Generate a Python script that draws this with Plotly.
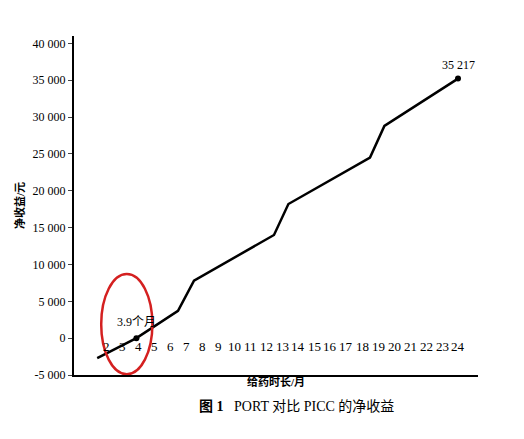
import plotly.graph_objects as go

months = [1.45, 3.9, 6.5, 7.5, 12.5, 13.4, 18.5, 19.4, 24]
net_gain = [-2700, 0, 3700, 7800, 14000, 18200, 24500, 28800, 35217]
x_labels = list(range(2, 25))
y_ticks = [-5000, 0, 5000, 10000, 15000, 20000, 25000, 30000, 35000, 40000]
y_labels = ["-5 000", "0", "5 000", "10 000", "15 000", "20 000", "25 000", "30 000", "35 000", "40 000"]

font = "Liberation Serif, Noto Sans CJK SC"
fig = go.Figure()
fig.add_trace(go.Scatter(x=months, y=net_gain, mode="lines", line=dict(color="black", width=2.5)))
fig.add_trace(go.Scatter(x=[3.9, 24], y=[0, 35217], mode="markers", marker=dict(color="black", size=6)))

# month labels sit on the zero line
for m in x_labels:
    fig.add_annotation(x=m, y=-1100, text=str(m), showarrow=False, font=dict(size=13, color="black", family=font))
fig.add_annotation(x=3.9, y=2200, text="3.9个月", showarrow=False, font=dict(size=12, color="black", family=font))
fig.add_annotation(x=24, y=37000, text="35 217", showarrow=False, font=dict(size=12, color="black", family=font))
fig.add_shape(type="circle", x0=1.7, x1=4.9, y0=-4900, y1=8700, line=dict(color="#d42020", width=2.5))

fig.add_annotation(xref="paper", yref="paper", x=0.5, y=-0.045, text="<b>给药时长/月</b>", showarrow=False,
                   font=dict(size=11, color="black", family=font))
fig.add_annotation(xref="paper", yref="paper", x=0.55, y=-0.12, text="<b>图 1</b>   PORT 对比 PICC 的净收益", showarrow=False,
                   font=dict(size=14, color="black", family=font))

fig.update_layout(
    width=524, height=439, showlegend=False,
    plot_bgcolor="white", paper_bgcolor="white",
    margin=dict(l=66, r=54, t=28, b=72),
    font=dict(family=font, color="black", size=12),
    xaxis=dict(range=[0, 25.25], showticklabels=False, showgrid=False, zeroline=False,
               showline=True, linecolor="black", linewidth=2, ticks=""),
    yaxis=dict(range=[-5000, 41000], tickvals=y_ticks, ticktext=y_labels, showgrid=False, zeroline=False,
               showline=True, linecolor="black", linewidth=2, ticks="outside", ticklen=4,
               title=dict(text="<b>净收益/元</b>", font=dict(size=11), standoff=6)),
)
fig.write_html("out.html")
